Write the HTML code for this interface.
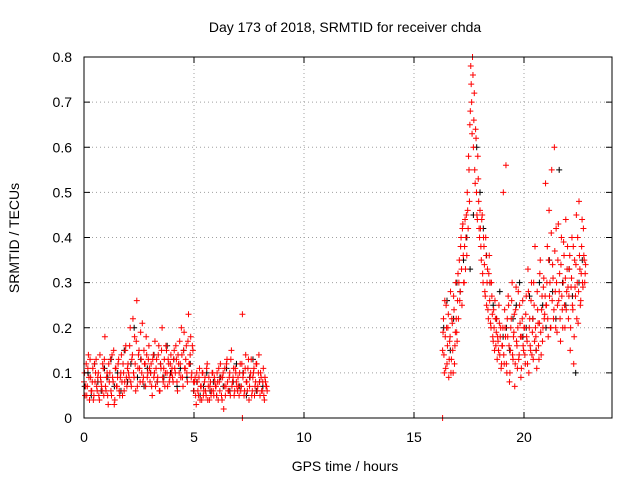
<!DOCTYPE html>
<html><head><meta charset="utf-8"><style>
body{margin:0;background:#fff}
svg text{font-family:"Liberation Sans",sans-serif;font-size:14px;fill:#000}
</style></head><body>
<svg id="chart" width="640" height="480" xmlns="http://www.w3.org/2000/svg">
<rect width="640" height="480" fill="#fff"/>
<text x="345" y="32" text-anchor="middle">Day 173 of 2018, SRMTID for receiver chda</text>
<text x="345" y="471" text-anchor="middle">GPS time / hours</text>
<text transform="translate(19,238) rotate(-90)" text-anchor="middle">SRMTID / TECUs</text>
<g id="grid"></g>
<g id="marks"></g>
<rect x="84" y="57" width="528" height="361" fill="none" stroke="#000" stroke-width="1"/>
<g id="ticks"></g>
</svg>
<script>
const xTicks=[0,5,10,15,20];
const yTicks=[0,0.1,0.2,0.3,0.4,0.5,0.6,0.7,0.8];
const yTickLabels=["0","0.1","0.2","0.3","0.4","0.5","0.6","0.7","0.8"];
const redA_t0=0, redA_dt=0.05;
const redA=[.08,.05,.12,.07,.14,.04,.09,.06,.11,.05,.08,.13,.06,.1,.04,.09,.07,.12,.05,.18,
.06,.1,.03,.08,.13,.05,.09,.15,.04,.11,.07,.12,.06,.09,.14,.05,.1,.08,.16,.07,
.12,.09,.2,.07,.14,.1,.18,.06,.26,.11,.15,.08,.13,.21,.09,.12,.07,.14,.1,.16,
.08,.12,.05,.14,.1,.07,.13,.09,.16,.06,.11,.2,.08,.13,.1,.15,.07,.12,.09,.14,
.11,.08,.15,.1,.13,.06,.12,.17,.09,.14,.07,.19,.11,.16,.08,.23,.12,.18,.1,.15,
.06,.09,.03,.08,.05,.11,.07,.04,.1,.06,.09,.05,.12,.07,.04,.08,.06,.1,.05,.08,
.07,.1,.04,.08,.12,.05,.09,.02,.11,.07,.13,.06,.09,.05,.15,.08,.11,.06,.1,.07,
.09,.05,.12,.07,.23,.1,.06,.14,.08,.11,.04,.09,.13,.06,.1,.05,.08,.12,.07,.14,
.05,.09,.06,.11,.04,.08,.07];
const redA2_t0=0.025, redA2_dt=0.05;
const redA2=[.1,.07,.05,.11,.09,.13,.06,.08,.04,.12,.1,.07,.09,.05,.14,.08,.06,.11,.13,.07,
.09,.05,.12,.1,.06,.14,.08,.03,.11,.07,.09,.13,.05,.1,.08,.12,.06,.15,.09,.11,
.1,.16,.08,.13,.22,.09,.12,.17,.07,.14,.11,.19,.1,.08,.15,.12,.18,.09,.13,.11,
.1,.07,.13,.09,.17,.11,.08,.14,.06,.12,.15,.09,.11,.07,.16,.1,.13,.08,.12,.1,
.09,.13,.11,.16,.08,.14,.1,.12,.2,.09,.15,.11,.13,.1,.17,.12,.14,.09,.16,.08,
.08,.05,.1,.06,.09,.04,.07,.1,.05,.08,.06,.11,.04,.09,.07,.05,.1,.06,.09,.07,
.05,.08,.11,.06,.09,.04,.1,.07,.05,.12,.08,.06,.1,.13,.07,.09,.05,.11,.08,.06,
.07,.1,.06,.12,.09,.05,.11,.08,.06,.13,.07,.1,.05,.09,.11,.07,.12,.06,.1,.08,
.1,.06,.08,.05,.09,.07,.06];
const blackA_t0=0.03, blackA_dt=0.15;
const blackA=[.07,.1,.05,.12,.08,.06,.11,.09,.13,.07,.1,.06,.15,.08,.12,.2,.09,.13,.07,.11,.1,.14,.08,.12,.09,.16,.1,.13,.07,.11,.15,.09,.12,.06,.08,.05,.07,.1,.06,.08,.05,.09,.07,.11,.06,.08,.12,.07,.1,.05,.09,.13,.06,.08,.07];
const redB_t0=16.3, redB_dt=0.04;
const redB=[.15,.22,.1,.18,.25,.12,.2,.09,.17,.28,.13,.21,.1,.24,.16,.3,.19,.26,
.22,.35,.28,.4,.25,.43,.3,.38,.33,.45,.5,.42,.55,.65,.78,.7,.8,.6,.72,.52,.62,.45,.58,.48,.4,
.42,.35,.45,.3,.38,.28,.4,.25,.33,.22,.36,.3,.2,.27,.18,.24,.15,.22,.19,.13,.17,.25,.14,.2,.12,
.16,.5,.12,.2,.56,.1,.18,.25,.08,.15,.22,.3,.13,.19,.07,.24,.17,.11,.28,.14,.21,.09,.18,.26,.15,
.2,.12,.27,.17,.33,.1,.22,.15,.3,.19,.13,.25,.38,.18,.11,.24,.16,.21,.35,.14,.27,.2,.31,.23,.52,
.25,.38,.18,.46,.3,.2,.55,.34,.22,.6,.28,.42,.19,.35,.26,.32,.17,.4,.24,.3,.36,.2,.44,.28,.38,
.22,.33,.15,.29,.4,.24,.12,.35,.27,.45,.3,.21,.48,.33,.26,.38,.3,.42,.35,.32];
const redB2_t0=16.32, redB2_dt=0.04;
const redB2=[.19,.14,.26,.11,.2,.16,.23,.13,.18,.1,.22,.15,.27,.12,.19,.22,.17,.32,
.3,.26,.38,.33,.42,.36,.3,.44,.4,.36,.46,.58,.48,.68,.74,.63,.76,.66,.55,.64,.5,.44,.53,.42,.46,
.38,.44,.32,.4,.34,.27,.36,.3,.24,.32,.26,.21,.3,.23,.17,.2,.26,.16,.22,.18,.15,.21,.18,.11,.16,
.2,.14,.24,.18,.12,.22,.27,.16,.1,.2,.26,.14,.18,.23,.12,.29,.16,.2,.13,.25,.18,.11,.22,.16,.2,
.14,.23,.18,.12,.28,.2,.16,.26,.14,.22,.3,.17,.2,.15,.28,.21,.13,.32,.19,.24,.17,.29,.22,.27,.25,
.3,.22,.35,.27,.2,.41,.26,.31,.24,.37,.2,.3,.25,.43,.28,.22,.34,.27,.2,.39,.25,.31,.24,.33,.29,
.27,.36,.2,.31,.25,.38,.18,.29,.34,.22,.4,.28,.36,.25,.32,.44,.29,.36,.3,.34];
const blackB_t0=16.35, blackB_dt=0.15;
const blackB=[.2,.26,.15,.22,.3,.28,.35,.4,.33,.45,.6,.5,.42,.36,.3,.25,.22,.28,.18,.2,.15,.22,.25,.3,.18,.2,.27,.22,.15,.3,.25,.2,.35,.28,.22,.55,.3,.25,.33,.27,.1,.3,.35];
const zeroTimes=[7.2,16.3];
const zeroValues=[0,0];

const NS="http://www.w3.org/2000/svg";
const X=h=>84+h*22, Y=v=>418-v*451.25;
const grid=document.getElementById('grid'), ticks=document.getElementById('ticks'), marks=document.getElementById('marks');
function mk(tag,attrs,parent){const e=document.createElementNS(NS,tag);for(const k in attrs)e.setAttribute(k,attrs[k]);parent.appendChild(e);return e;}
xTicks.forEach(t=>{
  if(t>0){const g=mk('line',{x1:X(t),x2:X(t),y1:57,y2:418,stroke:'#a0a0a0','stroke-dasharray':'1,3'},grid);
  
  }
  mk('line',{x1:X(t),x2:X(t),y1:418,y2:412,stroke:'#000'},ticks);
  mk('line',{x1:X(t),x2:X(t),y1:57,y2:63,stroke:'#000'},ticks);
  const l=mk('text',{x:X(t),y:442,'text-anchor':'middle'},ticks);l.textContent=t;
  
  
});
yTicks.forEach((t,i)=>{
  if(t>0&&t<0.8){const g=mk('line',{x1:84,x2:612,y1:Y(t),y2:Y(t),stroke:'#a0a0a0','stroke-dasharray':'1,3'},grid);
  
  }
  mk('line',{x1:84,x2:90,y1:Y(t),y2:Y(t),stroke:'#000'},ticks);
  mk('line',{x1:612,x2:606,y1:Y(t),y2:Y(t),stroke:'#000'},ticks);
  const l=mk('text',{x:72,y:Y(t)+5,'text-anchor':'end'},ticks);l.textContent=yTickLabels[i];
  
  
});
function plus(h,v,color){
  const p=mk('path',{d:`M${X(h)-3},${Y(v)}h6M${X(h)},${Y(v)-3}v6`,stroke:color,'stroke-width':1,fill:'none'},marks);
  
  
}
blackA.forEach((v,i)=>plus(blackA_t0+i*blackA_dt,v,'#000'));
blackB.forEach((v,i)=>plus(blackB_t0+i*blackB_dt,v,'#000'));
redA.forEach((v,i)=>plus(redA_t0+i*redA_dt,v,'#ff0000'));
redA2.forEach((v,i)=>plus(redA2_t0+i*redA2_dt,v,'#ff0000'));
redB.forEach((v,i)=>plus(redB_t0+i*redB_dt,v,'#ff0000'));
redB2.forEach((v,i)=>plus(redB2_t0+i*redB2_dt,v,'#ff0000'));
zeroTimes.forEach((t,i)=>plus(t,zeroValues[i],'#ff0000'));
</script>
</body></html>
